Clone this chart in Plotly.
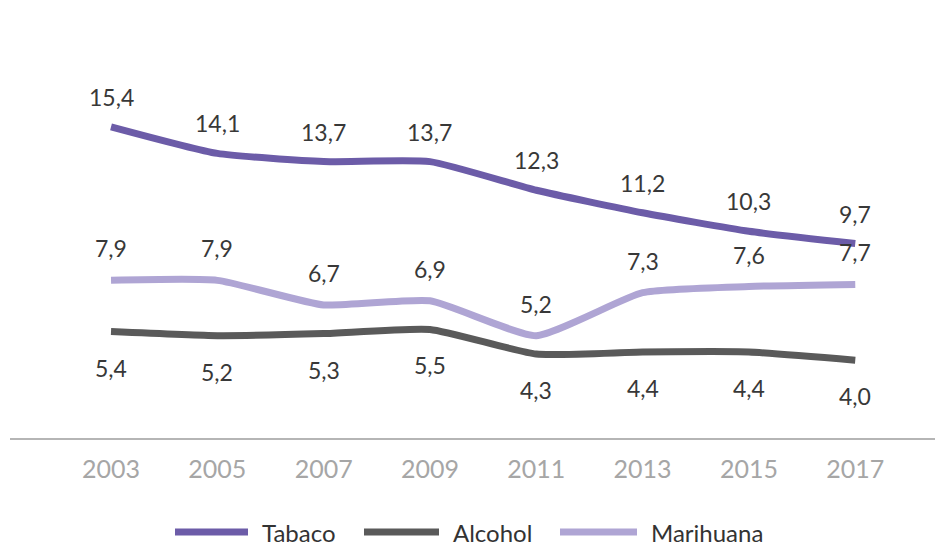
import plotly.graph_objects as go

# Prevalence by survey year
years = [2003, 2005, 2007, 2009, 2011, 2013, 2015, 2017]
tabaco = [15.4, 14.1, 13.7, 13.7, 12.3, 11.2, 10.3, 9.7]
alcohol = [5.4, 5.2, 5.3, 5.5, 4.3, 4.4, 4.4, 4.0]
marihuana = [7.9, 7.9, 6.7, 6.9, 5.2, 7.3, 7.6, 7.7]

series = [
    ("Tabaco", tabaco, "#6c5ca8", 30),
    ("Alcohol", alcohol, "#5a5a5a", -36),
    ("Marihuana", marihuana, "#afa5d4", 32),
]

label_font = dict(family="Lato, Open Sans, sans-serif", size=23, color="#383838")

fig = go.Figure()
annotations = []
for name, vals, color, shift in series:
    fig.add_trace(go.Scatter(
        x=years, y=vals, mode="lines", name=name,
        line=dict(color=color, width=7, shape="spline", smoothing=0.5),
        showlegend=False, hoverinfo="skip", cliponaxis=False,
    ))
    for x, v in zip(years, vals):
        annotations.append(dict(
            x=x, y=v, xref="x", yref="y", text=f"{v:.1f}".replace(".", ","),
            showarrow=False, yshift=shift, font=label_font,
        ))

# Legend drawn as swatches + labels along the bottom
W, H = 935, 559
plot_l, plot_r, plot_t, plot_b = 10, 0, 92, 121
pw, ph = W - plot_l - plot_r, H - plot_t - plot_b
legend_items = [("Tabaco", "#6c5ca8", 175, 248), ("Alcohol", "#5a5a5a", 364, 439),
                ("Marihuana", "#afa5d4", 560, 637)]
legend_y = 532
shapes = []
for name, color, x0, x1 in legend_items:
    yp = (H - plot_b - legend_y) / ph
    shapes.append(dict(type="line", xref="paper", yref="paper",
                       x0=(x0 - plot_l) / pw, x1=(x1 - plot_l) / pw, y0=yp, y1=yp,
                       line=dict(color=color, width=7)))
    annotations.append(dict(xref="paper", yref="paper", x=(x1 + 12 - plot_l) / pw, y=yp,
                            xanchor="left", yanchor="middle", text=name, showarrow=False,
                            font=dict(family="Lato, sans-serif", size=24, color="#333333")))

fig.update_layout(
    width=W, height=H,
    margin=dict(l=plot_l, r=plot_r, t=plot_t, b=plot_b),
    paper_bgcolor="white", plot_bgcolor="white",
    annotations=annotations, shapes=shapes,
    xaxis=dict(range=[2001.1, 2018.5], tickvals=years, ticktext=[str(y) for y in years],
               showgrid=False, zeroline=False, showline=True, linecolor="#b5b5b5", linewidth=1.5,
               ticks="outside", ticklen=0, ticklabelstandoff=8,
               tickfont=dict(family="Lato, sans-serif", size=25, color="#a6a6a6")),
    yaxis=dict(range=[0.2, 17.1], visible=False, showgrid=False, zeroline=False),
)

fig.write_html("out.html")
